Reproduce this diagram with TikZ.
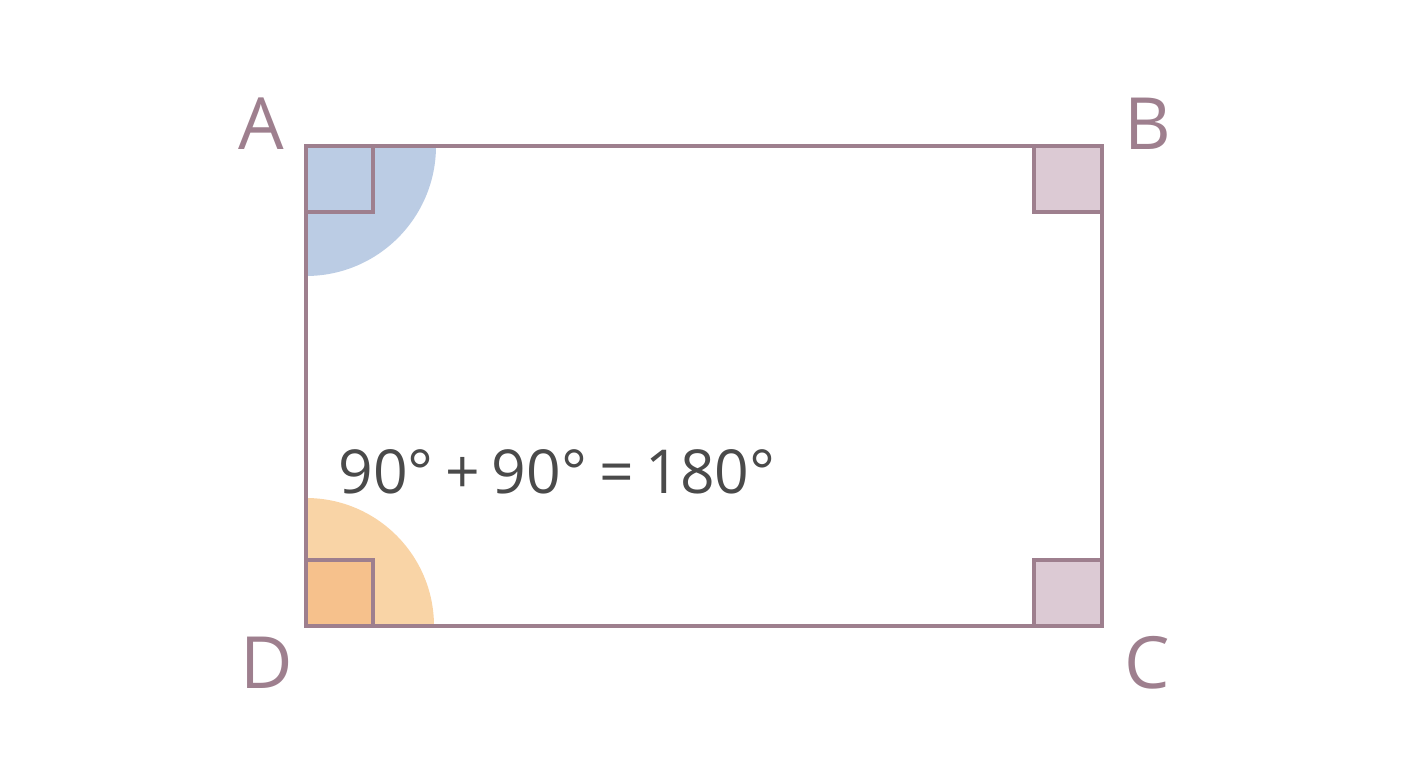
\documentclass[tikz,border=0pt]{standalone}
\usepackage{fontspec}
\setmainfont{Open Sans}
\newfontfamily\eqfont[WordSpace=0.75]{Open Sans}
\usepackage{tikz}
\usetikzlibrary{positioning}
\definecolor{edgemauve}{HTML}{9E7F8E}
\definecolor{angleblue}{HTML}{BBCCE4}
\definecolor{angleorange}{HTML}{F9D4A6}
\definecolor{squareorange}{HTML}{F6C18C}
\definecolor{squarepink}{HTML}{DCCAD4}
\definecolor{textgray}{HTML}{4A4A4A}
\tikzset{
	edge/.style={draw=edgemauve, line width=2.6pt},
	corner/.style={text=edgemauve, font=\fontsize{41}{41}\selectfont, inner sep=0pt},
	sum/.style={text=textgray, font=\eqfont\fontsize{34.5}{34.5}\selectfont, inner sep=0pt}
}
% right angle mark: corner x, corner y, dx, dy, fill
\newcommand{\anglemark}[5]{
	\filldraw[edge, fill=#5] (#1, #2) rectangle (#1+#3, #2+#4);
}
\begin{document}
\begin{tikzpicture}[x=0.02cm, y=0.02cm]
	\useasboundingbox (0,0) rectangle (1408,768);
	\coordinate (A) at (306,622);
	\coordinate (B) at (1102,622);
	\coordinate (C) at (1102,142);
	\coordinate (D) at (306,142);
	% angle sectors
	\fill[angleblue] (A) -- ++(130,0) arc[start angle=0, end angle=-90, radius=130] -- cycle;
	\fill[angleorange] (D) -- ++(128,0) arc[start angle=0, end angle=90, radius=128] -- cycle;
	% right angle marks
	\anglemark{306}{622}{67}{-66}{angleblue}
	\anglemark{306}{142}{67}{66}{squareorange}
	\anglemark{1102}{622}{-68}{-66}{squarepink}
	\anglemark{1102}{142}{-68}{66}{squarepink}
	% rectangle
	\draw[edge, line join=miter] (A) -- (B) -- (C) -- (D) -- cycle;
	% labels
	\node[corner] (labA) at (261,644) {A};
	\node[corner] (labB) at (1148,644) {B};
	\node[corner] (labC) at (1147,105) {C};
	\node[corner] (labD) at (267,105) {D};
	\node[sum, anchor=base west] (eq) at (338,275) {90° + 90° = 180°};
\end{tikzpicture}
\end{document}
